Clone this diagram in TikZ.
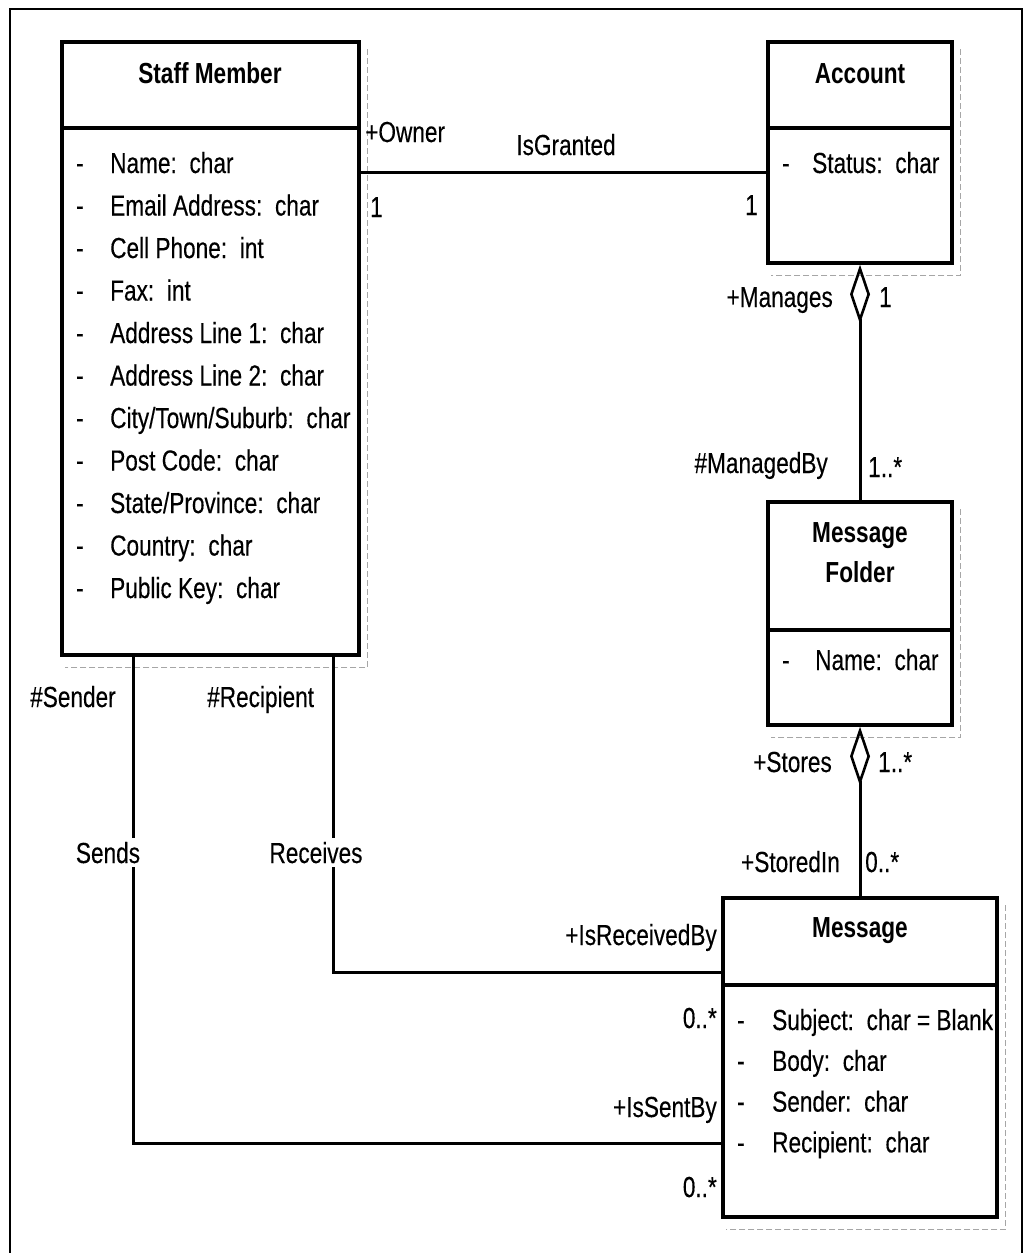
\documentclass[tikz,border=0pt]{standalone}
\usepackage{fontspec}
\setmainfont{Liberation Sans}[FakeStretch=0.78, UprightFeatures={FakeBold=0.3}]
\usetikzlibrary{arrows.meta}
\newcommand\fs{\fontsize{29}{34}\selectfont}
\newcommand\cs{:\hspace{0.15em} }
\begin{document}
\begin{tikzpicture}[x=1pt,y=-1pt,
  every node/.style={font=\fs, inner sep=0pt},
  cls/.style={draw, line width=3.5pt, rectangle, inner sep=0pt},
  bar/.style={line width=3.5pt},
  con/.style={line width=3pt},
  shd/.style={draw=gray!70, line width=0.7pt, dash pattern=on 6pt off 3pt},
  agg/.style={{Diamond[open,length=59pt,width=20pt,line width=2.6pt]}-},
  tl/.style={anchor=base west},
  tr/.style={anchor=base east},
  tc/.style={anchor=base},
  ttl/.style={anchor=base, font=\fs\bfseries},
  gap/.style={anchor=base, fill=white, inner xsep=1pt, inner ysep=4pt},
]
\useasboundingbox (0,0) rectangle (1024,1253);
% outer frame
\draw[line width=1.5pt] (10,1253) -- (10,9) -- (1022,9) -- (1022,1253);

% classes
\node[cls, minimum width=297pt, minimum height=613pt] (staff) at (210.5,348.5) {};
\node[cls, minimum width=184pt, minimum height=221pt] (account) at (860,152.5) {};
\node[cls, minimum width=184pt, minimum height=223pt] (mfolder) at (860,613.5) {};
\node[cls, minimum width=274pt, minimum height=319pt] (message) at (860,1057.5) {};

% shadows
\foreach \b in {staff,account,mfolder,message}{
  \draw[shd] ([shift={(7,9)}]\b.north east) -- ([shift={(7,11)}]\b.south east) -- ([shift={(5,11)}]\b.south west);
}

% dividers
\draw[bar] (staff.west |- 0,128) -- (staff.east |- 0,128);
\draw[bar] (account.west |- 0,128) -- (account.east |- 0,128);
\draw[bar] (mfolder.west |- 0,630) -- (mfolder.east |- 0,630);
\draw[bar] (message.west |- 0,985) -- (message.east |- 0,985);

% titles
\node[ttl] (tstaff) at (210,83) {Staff Member};
\node[ttl] (tacc) at (860,83) {Account};
\node[ttl] (tmf1) at (860,542) {Message};
\node[ttl] (tmf2) at (860,582) {Folder};
\node[ttl] (tmsg) at (860,937) {Message};

% attributes
\foreach \t [count=\i from 0] in {Name\cs char, Email Address\cs char, Cell Phone\cs int, Fax\cs int,
  Address Line 1\cs char, Address Line 2\cs char, City/Town/Suburb\cs char, Post Code\cs char,
  State/Province\cs char, Country\cs char, Public Key\cs char}{
  \node[tl] (sd\i) at (76,173+42.5*\i) {-};
  \node[tl] (sa\i) at (110,173+42.5*\i) {\t};
}
\node[tl] (ad) at (782,173) {-};
\node[tl] (aa) at (812,173) {Status\cs char};
\node[tl] (md) at (782,670) {-};
\node[tl] (ma) at (815,670) {Name\cs char};
\foreach \t [count=\i from 0] in {Subject\cs char = Blank, Body\cs char, Sender\cs char, Recipient\cs char}{
  \node[tl] (gd\i) at (737,1030+40.8*\i) {-};
  \node[tl] (ga\i) at (772,1030+40.8*\i) {\t};
}

% connectors
\coordinate (ig) at (0,172);
\coordinate (rv) at (333,972);
\coordinate (sn) at (133,1143);
\draw[con] (staff.east |- ig) -- (account.west |- ig);
\draw[con,agg] (account.south) -- (mfolder.north);
\draw[con,agg] (mfolder.south) -- (message.north);
\draw[con] (staff.south -| rv) |- (message.west |- rv);
\draw[con] (staff.south -| sn) |- (message.west |- sn);

% connector labels
\node[tl] (owner) at (365,142) {+Owner};
\node[tc] (isg) at (566,155) {IsGranted};
\node[tl] (m1) at (370,217) {1};
\node[tr] (m2) at (758,215) {1};
\node[tr] (manages) at (833,307) {+Manages};
\node[tl] (m3) at (879,307) {1};
\node[tr] (managedby) at (828,473) {\#ManagedBy};
\node[tl] (m4) at (868,477) {1..*};
\node[tr] (stores) at (832,772) {+Stores};
\node[tl] (m5) at (878,772) {1..*};
\node[tr] (storedin) at (840,872) {+StoredIn};
\node[tl] (m6) at (865,872) {0..*};
\node[tr] (recby) at (717,945) {+IsReceivedBy};
\node[tr] (m7) at (717,1028) {0..*};
\node[tr] (sentby) at (717,1117) {+IsSentBy};
\node[tr] (m8) at (717,1197) {0..*};
\node[tl] (sender) at (30,707) {\#Sender};
\node[tl] (recip) at (207,707) {\#Recipient};
\node[gap] (sends) at (108,863) {Sends};
\node[gap] (receives) at (316,863) {Receives};
\end{tikzpicture}
\end{document}
